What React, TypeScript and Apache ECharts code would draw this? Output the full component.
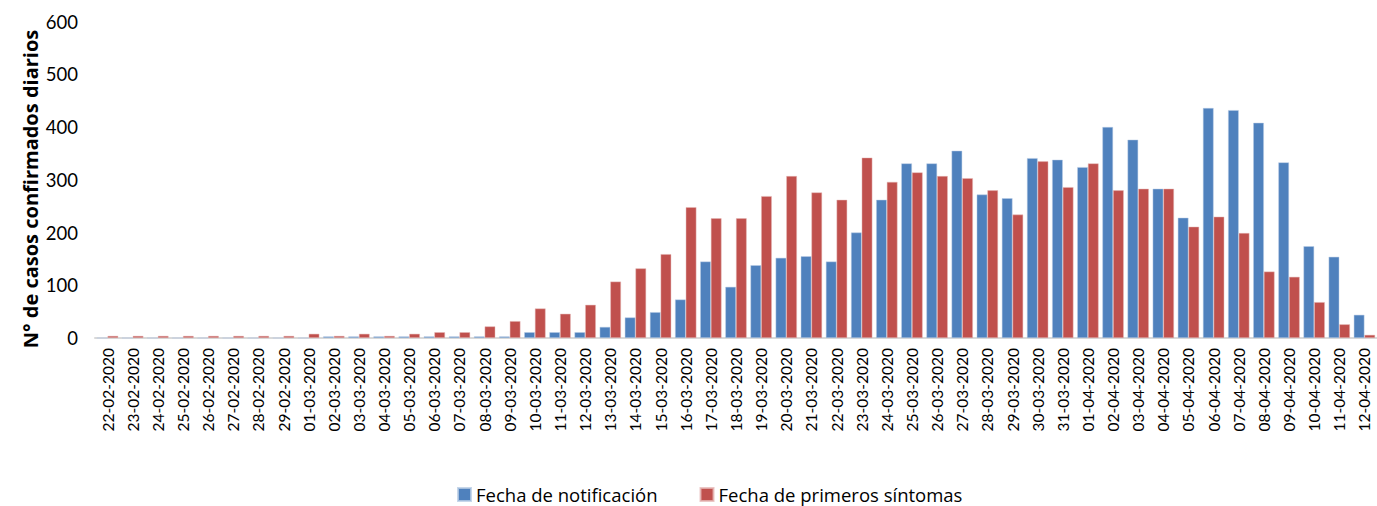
import React, { useEffect, useRef } from "react";
import * as echarts from "echarts";

const categories: string[] = [
  "22-02-2020", "23-02-2020", "24-02-2020", "25-02-2020", "26-02-2020", "27-02-2020", "28-02-2020", "29-02-2020",
  "01-03-2020", "02-03-2020", "03-03-2020", "04-03-2020", "05-03-2020", "06-03-2020", "07-03-2020", "08-03-2020",
  "09-03-2020", "10-03-2020", "11-03-2020", "12-03-2020", "13-03-2020", "14-03-2020", "15-03-2020", "16-03-2020",
  "17-03-2020", "18-03-2020", "19-03-2020", "20-03-2020", "21-03-2020", "22-03-2020", "23-03-2020", "24-03-2020",
  "25-03-2020", "26-03-2020", "27-03-2020", "28-03-2020", "29-03-2020", "30-03-2020", "31-03-2020", "01-04-2020",
  "02-04-2020", "03-04-2020", "04-04-2020", "05-04-2020", "06-04-2020", "07-04-2020", "08-04-2020", "09-04-2020",
  "10-04-2020", "11-04-2020", "12-04-2020",
];

const fechaNotificacion: number[] = [
  0, 0, 0, 0, 0, 0, 0, 0,
  0, 3, 3, 3, 3, 3, 3, 3,
  3, 11, 11, 11, 21, 39, 49, 73,
  145, 97, 138, 152, 155, 145, 200, 262,
  331, 331, 355, 272, 265, 341, 338, 324,
  400, 376, 283, 228, 436, 432, 408, 333,
  174, 154, 44,
];

const fechaSintomas: number[] = [
  4, 4, 4, 4, 4, 4, 4, 4,
  8, 4, 8, 4, 8, 11, 11, 22,
  32, 56, 46, 63, 107, 132, 159, 248,
  227, 227, 269, 307, 276, 262, 342, 296,
  314, 307, 303, 280, 234, 335, 286, 331,
  280, 283, 283, 211, 230, 199, 126, 116,
  68, 26, 6,
];

const yTicks = { min: 0, max: 600, interval: 100 };
const seriesNames = ["Fecha de notificación", "Fecha de primeros síntomas"];
const yTitle = "N° de casos confirmados diarios";

const FONT = "Lato, 'Open Sans', sans-serif";
const WIDE = "'Open Sans', Lato, sans-serif";

export default function App() {
  const ref = useRef<HTMLDivElement>(null);
  useEffect(() => {
    if (!ref.current) return;
    const chart = echarts.init(ref.current, undefined, { renderer: "svg" });
    chart.setOption({
      animation: false,
      backgroundColor: "#ffffff",
      textStyle: { fontFamily: FONT },
      grid: { left: 95, right: 0, top: 21.5, bottom: 168, containLabel: false },
      legend: {
        left: 457,
        top: 485,
        padding: 0,
        itemWidth: 13,
        itemHeight: 13,
        itemGap: 42,
        icon: "rect",
        textStyle: { fontSize: 18.5, lineHeight: 19, color: "#000", fontFamily: WIDE },
        data: seriesNames,
      },
      graphic: [
        {
          type: "text",
          x: 30,
          y: 189,
          rotation: Math.PI / 2,
          style: {
            text: yTitle,
            font: `bold 20px ${WIDE}`,
            fill: "#000",
            align: "center",
            verticalAlign: "middle",
          },
        },
      ],
      xAxis: {
        type: "category",
        data: categories,
        axisLine: { show: true, lineStyle: { color: "#D9D9D9", width: 2 } },
        axisTick: { show: false },
        axisLabel: { rotate: 90, interval: 0, fontSize: 15.5, color: "#000", margin: 10, fontFamily: FONT },
      },
      yAxis: {
        type: "value",
        min: yTicks.min,
        max: yTicks.max,
        interval: yTicks.interval,
        axisLine: { show: false },
        axisTick: { show: false },
        splitLine: { show: false },
        axisLabel: { fontSize: 18.5, color: "#000", margin: 17, fontFamily: FONT },
      },
      series: [
        {
          name: seriesNames[0],
          type: "bar",
          data: fechaNotificacion,
          barGap: "0%",
          barCategoryGap: "15%",
          itemStyle: { color: "#4F81BD", borderColor: "rgba(185,205,229,0.8)", borderWidth: 0.6 },
        },
        {
          name: seriesNames[1],
          type: "bar",
          data: fechaSintomas,
          barGap: "0%",
          barCategoryGap: "15%",
          itemStyle: { color: "#C0504D", borderColor: "rgba(230,185,184,0.8)", borderWidth: 0.6 },
        },
      ],
    });
    return () => chart.dispose();
  }, []);
  return (
    <div
      ref={ref}
      style={{ position: "fixed", left: 0, top: 0, width: 1377, height: 506, background: "#fff" }}
    />
  );
}
